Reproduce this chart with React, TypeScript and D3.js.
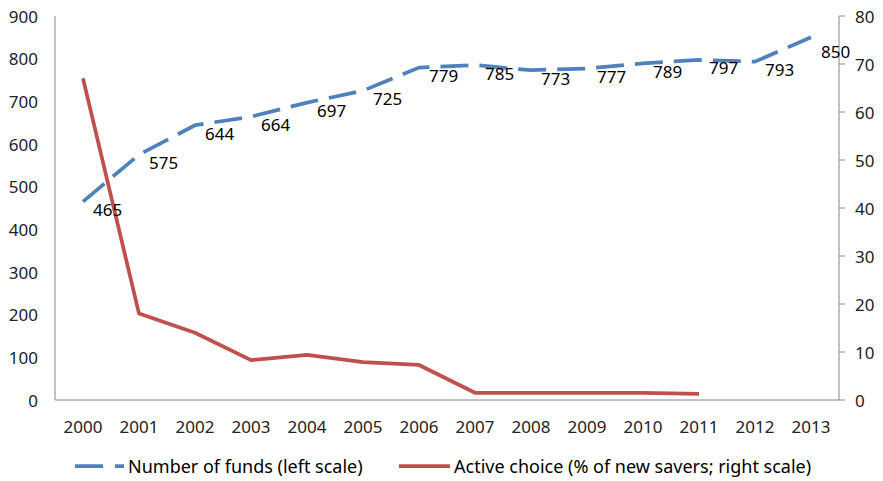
import React from 'react';
import * as d3 from 'd3';

// chart data
const years = ['2000', '2001', '2002', '2003', '2004', '2005', '2006', '2007', '2008', '2009', '2010', '2011', '2012', '2013'];
const funds = [465, 575, 644, 664, 697, 725, 779, 785, 773, 777, 789, 797, 793, 850];
const activeYears = ['2000', '2001', '2002', '2003', '2004', '2005', '2006', '2007', '2008', '2009', '2010', '2011'];
const activeChoice = [67, 18, 14, 8.3, 9.4, 7.9, 7.3, 1.5, 1.5, 1.5, 1.5, 1.3];
const leftTicks = [0, 100, 200, 300, 400, 500, 600, 700, 800, 900];
const rightTicks = [0, 10, 20, 30, 40, 50, 60, 70, 80];

const W = 883;
const H = 481;
const FONT = '"Noto Sans", sans-serif';
const FS = 17;
const BLUE = '#4F81BD';
const RED = '#C0504D';
const AXIS = '#868686';

export default function App() {
  const left = 55;
  const right = 839;
  const top = 16;
  const bottom = 400;

  const x = d3.scaleBand<string>().domain(years).range([left, right]);
  const cx = (yr: string) => (x(yr) as number) + x.bandwidth() / 2;
  const yL = d3.scaleLinear().domain([0, 900]).range([bottom, top]);
  const yR = d3.scaleLinear().domain([0, 80]).range([bottom, top]);

  const fundLine = d3.line<number>()
    .x((_, i) => cx(years[i]))
    .y(d => yL(d));
  const activeLine = d3.line<number>()
    .x((_, i) => cx(activeYears[i]))
    .y(d => yR(d));

  return (
    <svg width={W} height={H} style={{ position: 'absolute', left: 0, top: 0, background: '#fff' }}>
      {/* axes */}
      <line x1={left} x2={left} y1={top} y2={bottom} stroke={AXIS} />
      <line x1={right} x2={right} y1={top} y2={bottom} stroke={AXIS} />
      <line x1={left} x2={right} y1={bottom} y2={bottom} stroke={AXIS} />

      {leftTicks.map(t => (
        <text key={'l' + t} x={38} y={yL(t)} textAnchor="end" dominantBaseline="central"
          fontFamily={FONT} fontSize={FS} fill="#222">{t}</text>
      ))}
      {rightTicks.map(t => (
        <g key={'r' + t}>
          <line x1={right} x2={right + 6} y1={yR(t)} y2={yR(t)} stroke={AXIS} />
          <text x={855} y={yR(t)} dominantBaseline="central"
            fontFamily={FONT} fontSize={FS} fill="#222">{t}</text>
        </g>
      ))}
      {years.map(yr => (
        <text key={yr} x={cx(yr)} y={426} textAnchor="middle" dominantBaseline="central"
          fontFamily={FONT} fontSize={FS} fill="#222">{yr}</text>
      ))}

      {/* series */}
      <path d={activeLine(activeChoice) || ''} fill="none" stroke={RED} strokeWidth={3.75} strokeLinejoin="round" />
      <path d={fundLine(funds) || ''} fill="none" stroke={BLUE} strokeWidth={3.75} strokeDasharray="28 11" strokeLinejoin="round" />

      {funds.map((v, i) => (
        <text key={'f' + i} x={cx(years[i]) + 10} y={yL(v) + (i === funds.length - 1 ? 14 : 8)}
          dominantBaseline="central" fontFamily={FONT} fontSize={FS} fill="#000">{v}</text>
      ))}

      {/* legend */}
      <line x1={75} x2={124} y1={466} y2={466} stroke={BLUE} strokeWidth={3.75} strokeDasharray="28 12" />
      <text x={128} y={466} dominantBaseline="central" fontFamily={FONT} fontSize={18} fill="#000">Number of funds (left scale)</text>
      <line x1={399} x2={450} y1={466} y2={466} stroke={RED} strokeWidth={3.75} />
      <text x={454} y={466} dominantBaseline="central" fontFamily={FONT} fontSize={18} fill="#000">Active choice (% of new savers; right scale)</text>
    </svg>
  );
}
